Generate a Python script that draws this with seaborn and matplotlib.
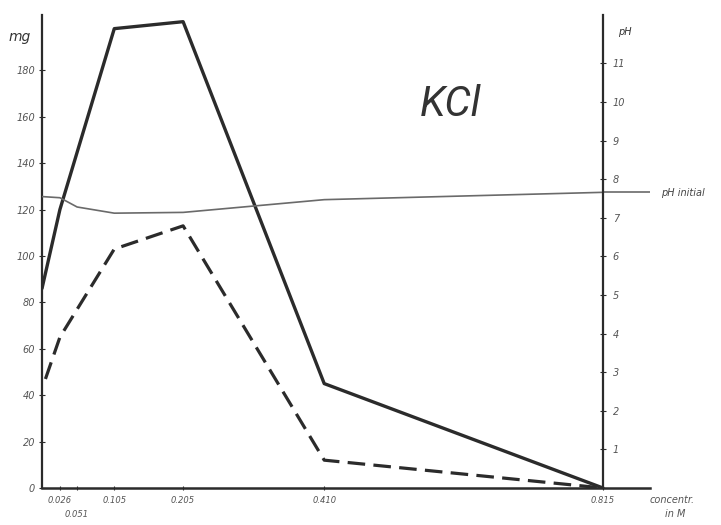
import matplotlib
matplotlib.use("Agg")
import matplotlib.pyplot as plt
import seaborn as sns
import pandas as pd

# data
conc_ticks = [0.026, 0.051, 0.105, 0.205, 0.410, 0.815]
conc_tick_labels = ["0.026", "0.051", "0.105", "0.205", "0.410", "0.815"]

solid_conc = [0.0, 0.026, 0.105, 0.205, 0.410, 0.815]
solid_mg = [86, 120, 198, 201, 45, 0]

dashed_conc = [0.005, 0.026, 0.105, 0.205, 0.410, 0.815]
dashed_mg = [47, 65, 103, 113, 12, 0]

ph_conc = [0.0, 0.026, 0.051, 0.105, 0.205, 0.410, 0.815]
ph_vals = [7.55, 7.52, 7.28, 7.12, 7.14, 7.47, 7.66]
ph_initial = 7.66

mg_ticks = [0, 20, 40, 60, 80, 100, 120, 140, 160, 180]
ph_ticks = [1, 2, 3, 4, 5, 6, 7, 8, 9, 10, 11]

sns.set_theme(style="white")
plt.rcParams['font.family'] = ['DejaVu Sans']

fig = plt.figure(figsize=(7.21, 5.25), dpi=100)
ax = fig.add_axes([42 / 721, 1 - 488 / 525, (650 - 42) / 721, (488 - 15) / 525])
ax2 = ax.twinx()

ink = "#2b2b2b"

df_s = pd.DataFrame({"c": solid_conc, "mg": solid_mg})
df_d = pd.DataFrame({"c": dashed_conc, "mg": dashed_mg})
df_p = pd.DataFrame({"c": ph_conc, "ph": ph_vals})

sns.lineplot(data=df_s, x="c", y="mg", ax=ax, color=ink, lw=2.4, sort=False)
sns.lineplot(data=df_d, x="c", y="mg", ax=ax, color=ink, lw=2.3, sort=False,
             linestyle=(0, (5.5, 2.6)))
sns.lineplot(data=df_p, x="c", y="ph", ax=ax2, color="#6a6a6a", lw=1.2, sort=False)
ax2.plot([ph_conc[-1], 0.885], [ph_initial, ph_initial], color="#6a6a6a", lw=1.2)

xmax = (650 - 42) / ((603 - 42) / 0.815)
ax.set_xlim(0, xmax)
ax.set_ylim(0, 473 / 2.32)
ax2.set_ylim(0, 473 / 38.6)

for a in (ax, ax2):
    a.set_xlabel("")
    a.set_ylabel("")
    a.spines["top"].set_visible(False)
    a.set_facecolor("none")

ax.spines["right"].set_visible(False)
ax.spines["left"].set_color(ink)
ax.spines["left"].set_linewidth(1.6)
ax.spines["bottom"].set_color(ink)
ax.spines["bottom"].set_linewidth(1.8)

ax2.spines["left"].set_visible(False)
ax2.spines["bottom"].set_visible(False)
ax2.spines["right"].set_position(("data", 0.815))
ax2.spines["right"].set_color(ink)
ax2.spines["right"].set_linewidth(1.6)

lab_col = "#555555"
ax.set_yticks(mg_ticks)
ax.set_yticklabels([str(v) for v in mg_ticks], fontsize=7, style="italic", color=lab_col)
ax.tick_params(axis="y", direction="inout", length=4, width=0.8, color=ink, pad=3, left=True)
ax.set_xticks(conc_ticks)
ax.set_xticklabels(conc_tick_labels, fontsize=6, style="italic", color=lab_col)
ax.tick_params(axis="x", direction="inout", length=3, width=0.8, color=ink, pad=4, bottom=True)
ax.xaxis.get_major_ticks()[1].set_pad(14)

ax2.set_yticks(ph_ticks)
ax2.set_yticklabels([str(v) for v in ph_ticks], fontsize=7, style="italic", color=lab_col)
ax2.tick_params(axis="y", direction="inout", length=4, width=0.8, color=ink, pad=5, right=True)

fig.text(20 / 721, 1 - 37 / 525, "mg", fontsize=10, style="italic", color="#333333",
         ha="center", va="center")
fig.text(625 / 721, 1 - 32 / 525, "pH", fontsize=7, style="italic", color="#333333",
         ha="center", va="center")
fig.text(683 / 721, 1 - 193 / 525, "pH initial", fontsize=7, style="italic", color="#444444",
         ha="center", va="center")
fig.text(672 / 721, 1 - 500 / 525, "concentr.", fontsize=7, style="italic", color="#555555",
         ha="center", va="center")
fig.text(675 / 721, 1 - 514 / 525, "in M", fontsize=7, style="italic", color="#555555",
         ha="center", va="center")
fig.text(451 / 721, 1 - 104 / 525, "KCl", fontsize=30, style="italic", color="#333333",
         ha="center", va="center", family=["Roboto", "DejaVu Sans"], fontweight="normal")

fig.savefig("out.png", dpi=100)
